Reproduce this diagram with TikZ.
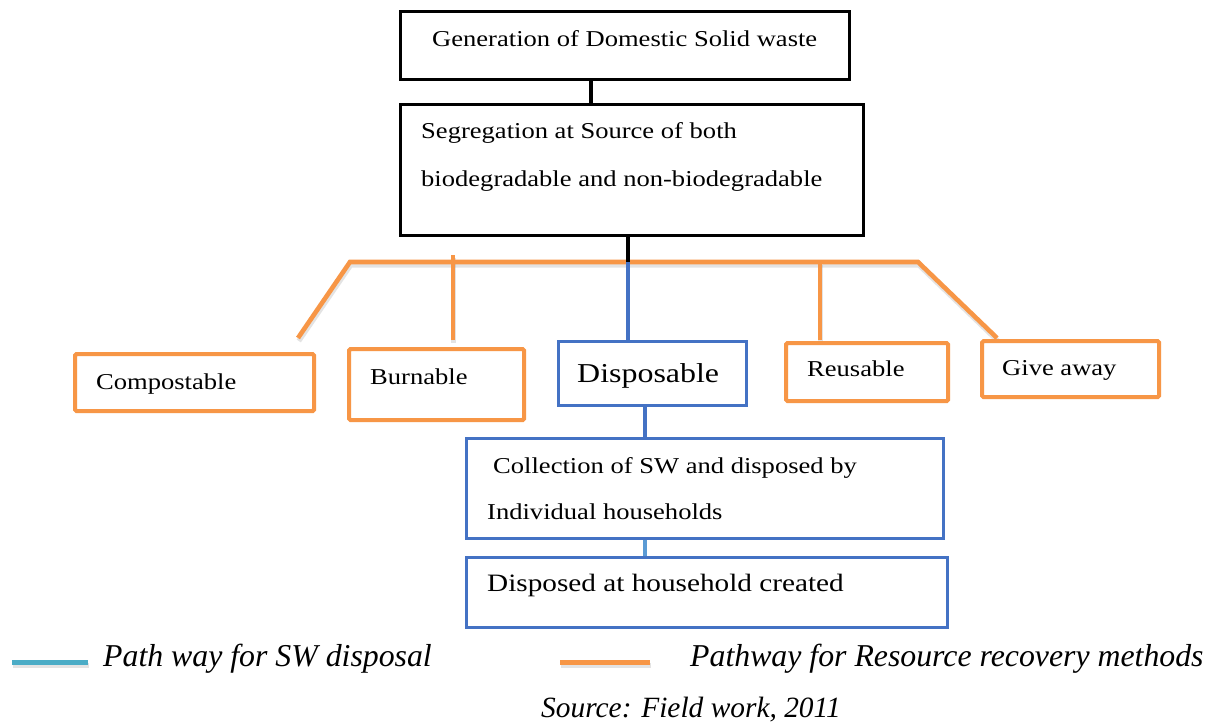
\documentclass[tikz,border=0pt]{standalone}
\usepackage{fontspec}
\setmainfont{Liberation Serif}[FakeStretch=1.17]
\newfontfamily\legendfont{Liberation Serif}
\definecolor{recov}{HTML}{F79646}
\definecolor{dispblue}{HTML}{4472C4}
\definecolor{legblue}{HTML}{4BACC6}
\definecolor{lightlink}{HTML}{5B9BD5}

\tikzset{
  boxbase/.style={rectangle, anchor=north west, inner sep=0pt},
  blackbox/.style={boxbase, draw=black, line width=2.6pt},
  orangebox/.style={boxbase, draw=recov, line width=4.2pt, rounded corners=1.5pt},
  bluebox/.style={boxbase, draw=dispblue, line width=2.6pt},
  txt/.style={anchor=base west, inner sep=0pt, font=\fontsize{22.7}{27}\selectfont},
  bigtxt/.style={anchor=base west, inner sep=0pt, font=\fontsize{27.3}{32}\selectfont},
  legtxt/.style={anchor=base west, inner sep=0pt, font=\legendfont\itshape\fontsize{31.8}{38}\selectfont},
  shadowcopy/.style={draw=black!50, opacity=0.22, line width=5pt,
      transform canvas={shift={(0.8pt,-3pt)}}},
  blackline/.style={draw=black, line width=3.6pt},
  orangeline/.style={draw=recov, line width=4.6pt},
  blueline/.style={draw=dispblue, line width=3.2pt},
  keyline/.style={line width=5pt},
}

\begin{document}
\begin{tikzpicture}[x=1pt, y=-1pt]
  \path[use as bounding box, fill=white] (0,0) rectangle (1212,723);

  % --- upper chain ---
  \node[blackbox, minimum width=449pt, minimum height=68pt] (gen) at (399,10) {};
  \node[txt] (gent) at (432,46.5) {Generation of Domestic Solid waste};

  \node[blackbox, minimum width=463pt, minimum height=131pt] (seg) at (399,103) {};
  \node[txt] (segt1) at (421,138) {Segregation at Source of both};
  \node[txt] (segt2) at (421,186) {biodegradable and non-biodegradable};

  % --- branching points ---
  \coordinate (hub)  at (628,262);
  \coordinate (busL) at (350,262);
  \coordinate (busR) at (918,262);
  \coordinate (compEnd) at (298,338);
  \coordinate (giveEnd) at (997,338);
  \coordinate (burnTop) at (453,255);
  \coordinate (burnEnd) at (453,340);
  \coordinate (reuseTop) at (820,262);
  \coordinate (reuseEnd) at (820,340);

  % soft shadows under the recovery branches
  \draw[shadowcopy] (compEnd) -- (busL) -- (busR) -- (giveEnd);
  \draw[shadowcopy] (burnTop) -- (burnEnd);
  \draw[shadowcopy] (reuseTop) -- (reuseEnd);

  % --- categories ---
  \node[orangebox, minimum width=239pt, minimum height=57pt] (comp) at (73,352) {};
  \node[txt] (compt) at (96,389) {Compostable};

  \node[orangebox, minimum width=175pt, minimum height=71pt] (burn) at (347,347) {};
  \node[txt] (burnt) at (370,384) {Burnable};

  \node[bluebox, minimum width=188pt, minimum height=64pt] (disp) at (557,340) {};
  \node[bigtxt] (dispt) at (577,382) {Disposable};

  \node[orangebox, minimum width=162pt, minimum height=58pt] (reuse) at (784,341) {};
  \node[txt] (reuset) at (807,376) {Reusable};

  \node[orangebox, minimum width=177pt, minimum height=56pt] (give) at (980,339) {};
  \node[txt] (givet) at (1002,375) {Give away};

  % --- disposal chain ---
  \node[bluebox, minimum width=477pt, minimum height=100pt] (coll) at (465,437) {};
  \node[txt] (collt1) at (493,473) {Collection of SW and disposed by};
  \node[txt] (collt2) at (487,519) {Individual households};

  \node[bluebox, minimum width=481pt, minimum height=70pt] (home) at (465,556) {};
  \node[bigtxt, font=\fontsize{25}{30}\selectfont] (homet) at (487,591) {Disposed at household created};

  % --- connectors ---
  \draw[blackline] (591,0 |- gen.south) -- (591,0 |- seg.north);
  \draw[orangeline] (compEnd) -- (busL) -- (busR) -- (giveEnd);
  \draw[orangeline] (burnTop) -- (burnEnd);
  \draw[orangeline] (reuseTop) -- (reuseEnd);
  \draw[blackline] (628,0 |- seg.south) -- (hub);
  \draw[blueline] (hub) -- (628,0 |- disp.north);
  \draw[blueline] (645,0 |- disp.south) -- (645,0 |- coll.north);
  \draw[lightlink, line width=3.2pt] (645,0 |- coll.south) -- (645,0 |- home.north);

  % --- key ---
  \coordinate (keyA1) at (12,662);
  \coordinate (keyA2) at (88,662);
  \coordinate (keyB1) at (560,662);
  \coordinate (keyB2) at (650,662);
  \draw[shadowcopy] (keyA1) -- (keyA2);
  \draw[shadowcopy] (keyB1) -- (keyB2);
  \draw[keyline, draw=legblue] (keyA1) -- (keyA2);
  \draw[keyline, draw=recov] (keyB1) -- (keyB2);
  \node[legtxt] (keyAt) at (103,666) {Path way for SW disposal};
  \node[legtxt] (keyBt) at (690,666) {Pathway for Resource recovery methods};
  \node[legtxt, font=\legendfont\itshape\fontsize{29.4}{35}\selectfont] (src) at (541,717) {Source: Field work, 2011};
\end{tikzpicture}
\end{document}
